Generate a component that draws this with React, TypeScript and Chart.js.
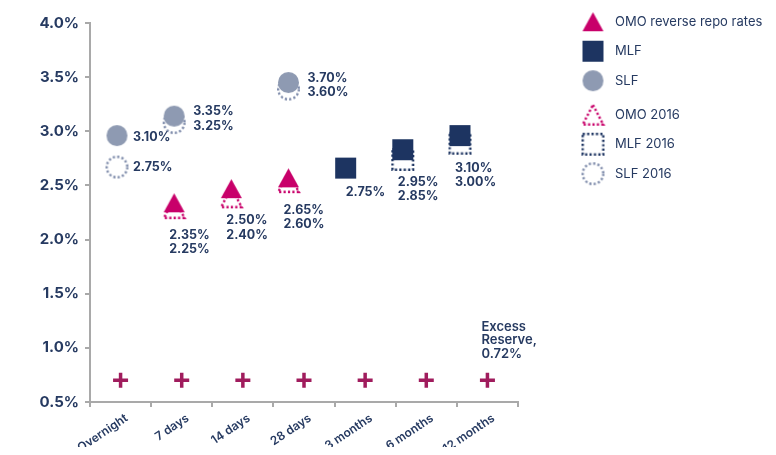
import React, { useEffect, useRef } from 'react';
import { Chart, registerables } from 'chart.js';

Chart.register(...registerables);

// ---------- data ----------
const categories = ['Overnight', '7 days', '14 days', '28 days', '3 months', '6 months', '12 months'];

const omoRates = [null, 2.34, 2.47, 2.57, null, null, null];
const mlfRates = [null, null, null, null, 2.66, 2.83, 2.96];
const slfRates = [2.96, 3.14, null, 3.45, null, null, null];
const omo2016 = [null, 2.29, 2.39, 2.53, null, null, null];
const mlf2016 = [null, null, null, null, null, 2.74, 2.89];
const slf2016 = [2.67, 3.08, null, 3.39, null, null, null];
const excessReserve = [0.7, 0.7, 0.7, 0.7, 0.7, 0.7, 0.7];

const omoText = [null, '2.35%', '2.50%', '2.65%', null, null, null];
const mlfText = [null, null, null, null, '2.75%', '2.95%', '3.10%'];
const slfText = ['3.10%', '3.35%', null, '3.70%', null, null, null];
const omo2016Text = [null, '2.25%', '2.40%', '2.60%', null, null, null];
const mlf2016Text = [null, null, null, null, null, '2.85%', '3.00%'];
const slf2016Text = ['2.75%', '3.25%', null, '3.60%', null, null, null];
const excessText = ['Excess', 'Reserve,', '0.72%'];

const legendLabels = ['OMO reverse repo rates', 'MLF', 'SLF', 'OMO 2016', 'MLF 2016', 'SLF 2016'];

const yMin = 0.5;
const yMax = 4.0;
const yStep = 0.5;

// ---------- styles ----------
const FONT = 'Inter';
const NAVY_TEXT = '#263a61';
const MAGENTA = '#c8006a';
const NAVY = '#1d3461';
const GREYBLUE = '#8e9ab2';
const DOTBLUE = '#7f8cab';
const CROSS = '#a01c5d';
const AXIS = '#a9a9a9';

type Shape = 'triangle' | 'square' | 'circle';

function makeMarker(shape: Shape, dotted: boolean, color: string, w: number, h: number): HTMLCanvasElement {
  const pad = 3;
  const c = document.createElement('canvas');
  c.width = Math.ceil(w + pad * 2);
  c.height = Math.ceil(h + pad * 2);
  const ctx = c.getContext('2d')!;
  ctx.fillStyle = color;
  ctx.strokeStyle = color;
  const lw = 2.4;
  const inset = dotted ? lw / 2 : 0;
  ctx.beginPath();
  if (shape === 'triangle') {
    ctx.moveTo(pad + w / 2, pad + inset);
    ctx.lineTo(pad + w - inset, pad + h - inset);
    ctx.lineTo(pad + inset, pad + h - inset);
    ctx.closePath();
  } else if (shape === 'square') {
    ctx.rect(pad + inset, pad + inset, w - 2 * inset, h - 2 * inset);
  } else {
    ctx.arc(pad + w / 2, pad + h / 2, w / 2 - inset, 0, Math.PI * 2);
  }
  if (dotted) {
    ctx.lineWidth = lw;
    ctx.setLineDash([2.2, 2.2]);
    ctx.stroke();
  } else {
    ctx.fill();
  }
  return c;
}

export default function App() {
  const canvasRef = useRef<HTMLCanvasElement | null>(null);

  useEffect(() => {
    if (!canvasRef.current) return;

    const markers = [
      makeMarker('triangle', false, MAGENTA, 21, 19),
      makeMarker('square', false, NAVY, 21, 21),
      makeMarker('circle', false, GREYBLUE, 21, 21),
      makeMarker('triangle', true, MAGENTA, 23, 22),
      makeMarker('square', true, NAVY, 23, 23),
      makeMarker('circle', true, DOTBLUE, 23, 23),
    ];
    const seriesValues = [omoRates, mlfRates, slfRates, omo2016, mlf2016, slf2016];

    const toPoints = (arr: (number | null)[]) =>
      arr
        .map((v, i) => (v == null ? null : { x: i, y: v }))
        .filter((p) => p !== null) as { x: number; y: number }[];

    const datasets: any[] = seriesValues.map((vals, k) => ({
      label: legendLabels[k],
      data: toPoints(vals),
      xAxisID: 'x2',
      yAxisID: 'y',
      showLine: false,
      pointStyle: markers[k],
      pointRadius: 11,
    }));
    datasets.push({
      label: 'Excess Reserve',
      data: excessReserve,
      xAxisID: 'x',
      yAxisID: 'y',
      showLine: false,
      pointStyle: 'cross',
      pointRadius: 7.5,
      pointBorderWidth: 3.5,
      pointBorderColor: CROSS,
      borderColor: CROSS,
    });

    const labelPlugin = {
      id: 'valueLabels',
      afterDatasetsDraw(chart: any) {
        const ctx = chart.ctx as CanvasRenderingContext2D;
        const x2 = chart.scales.x2;
        const xs = chart.scales.x;
        const ys = chart.scales.y;
        ctx.save();
        ctx.fillStyle = NAVY_TEXT;
        ctx.textAlign = 'left';
        ctx.textBaseline = 'middle';
        ctx.font = `700 12.5px ${FONT}`;
        const put = (t: string | null, x: number, y: number) => {
          if (t) ctx.fillText(t, x, y);
        };
        categories.forEach((_, i) => {
          const px = x2.getPixelForValue(i);
          if (slfText[i] && slfRates[i] != null) {
            const ps = ys.getPixelForValue(slfRates[i]);
            const p16 = slf2016[i] != null ? ys.getPixelForValue(slf2016[i]) : null;
            if (p16 != null && p16 - ps > 20) {
              put(slfText[i], px + 16, ps + 2);
              put(slf2016Text[i], px + 16, p16);
            } else {
              put(slfText[i], px + 19, ps - 4.5);
              put(slf2016Text[i], px + 19, ps + 10);
            }
          }
          if (omoText[i] && omoRates[i] != null) {
            const p = ys.getPixelForValue(omoRates[i]);
            put(omoText[i], px - 5, p + 32);
            put(omo2016Text[i], px - 5, p + 46.5);
          }
          if (mlfText[i] && mlfRates[i] != null) {
            const p = ys.getPixelForValue(mlfRates[i]);
            if (mlf2016Text[i]) {
              put(mlfText[i], px - 5, p + 33);
              put(mlf2016Text[i], px - 5, p + 46.5);
            } else {
              put(mlfText[i], px, p + 24);
            }
          }
        });
        const last = categories.length - 1;
        const cx = xs.getPixelForValue(last);
        const cy = ys.getPixelForValue(excessReserve[last]);
        ctx.font = `600 13px ${FONT}`;
        excessText.forEach((t, k) => ctx.fillText(t, cx - 6, cy - 53.5 + k * 13.4));
        ctx.restore();
      },
    };

    const legendPlugin = {
      id: 'sideLegend',
      afterDraw(chart: any) {
        const ctx = chart.ctx as CanvasRenderingContext2D;
        const left = chart.chartArea.right + 75;
        ctx.save();
        ctx.fillStyle = NAVY_TEXT;
        ctx.textAlign = 'left';
        ctx.textBaseline = 'middle';
        ctx.font = `400 13px ${FONT}`;
        legendLabels.forEach((lab, k) => {
          const cy = 13.7 + k * 29.5 + (k >= 3 ? 4.5 : 0);
          const img = markers[k];
          ctx.drawImage(img, left - img.width / 2, cy - img.height / 2);
          ctx.fillText(lab, left + 22, cy);
        });
        ctx.restore();
      },
    };

    const chart = new Chart(canvasRef.current, {
      type: 'line',
      data: { labels: categories, datasets },
      options: {
        animation: false,
        responsive: true,
        maintainAspectRatio: false,
        events: [],
        layout: { padding: { left: 0, right: 250, top: 11, bottom: 0 } },
        plugins: { legend: { display: false }, tooltip: { enabled: false } },
        scales: {
          x: {
            type: 'category',
            offset: true,
            grid: {
              display: true,
              drawOnChartArea: false,
              drawTicks: true,
              tickLength: 5,
              offset: true,
              color: AXIS,
              lineWidth: 2,
            },
            border: { display: true, color: AXIS, width: 2 },
            ticks: {
              autoSkip: false,
              minRotation: 34,
              maxRotation: 34,
              padding: 4,
              labelOffset: 6,
              color: NAVY_TEXT,
              font: { family: FONT, size: 12, weight: '600' },
            },
            afterFit: (s: any) => {
              s.height = 53;
            },
          },
          x2: {
            type: 'linear',
            axis: 'x',
            display: false,
            min: -0.472,
            max: 7.015,
          },
          y: {
            type: 'linear',
            min: yMin,
            max: yMax,
            grid: {
              display: true,
              drawOnChartArea: false,
              drawTicks: true,
              tickLength: 5,
              color: AXIS,
              lineWidth: 2,
            },
            border: { display: true, color: AXIS, width: 2 },
            ticks: {
              stepSize: yStep,
              padding: 6,
              color: NAVY_TEXT,
              font: { family: FONT, size: 15, weight: '700' },
              callback: (v: any) => Number(v).toFixed(1) + '%',
            },
            afterFit: (s: any) => {
              s.width = 82;
            },
          },
        },
      },
      plugins: [labelPlugin, legendPlugin],
    } as any);

    return () => chart.destroy();
  }, []);

  return (
    <div style={{ position: 'relative', width: 760, height: 447, marginBottom: -8 }}>
      <canvas ref={canvasRef} />
    </div>
  );
}
